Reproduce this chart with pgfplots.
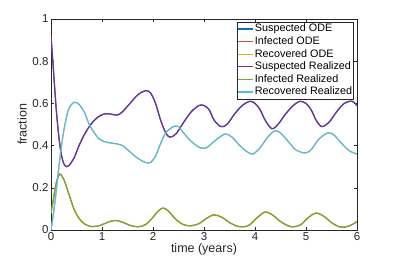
\documentclass[border=0pt]{standalone}
\usepackage{pgfplots}
\pgfplotsset{compat=1.18}
\usepackage{fontspec}
\setmainfont{Liberation Sans}
\definecolor{mblue}{rgb}{0,0.447,0.741}
\definecolor{morange}{rgb}{0.85,0.325,0.098}
\definecolor{myellow}{rgb}{0.929,0.694,0.125}
\definecolor{mpurple}{rgb}{0.494,0.184,0.556}
\definecolor{mgreen}{rgb}{0.466,0.674,0.188}
\definecolor{mcyan}{rgb}{0.301,0.745,0.933}
\definecolor{axgray}{rgb}{0.15,0.15,0.15}
\pgfplotstableread{
t v
0 0.92
0.05 0.75
0.1 0.58
0.15 0.45
0.2 0.36
0.25 0.315
0.3 0.30
0.35 0.305
0.45 0.34
0.55 0.40
0.65 0.45
0.75 0.49
0.85 0.52
0.95 0.54
1.05 0.55
1.15 0.55
1.3 0.545
1.4 0.56
1.55 0.60
1.7 0.64
1.85 0.66
1.95 0.65
2.05 0.60
2.15 0.52
2.25 0.46
2.33 0.44
2.45 0.455
2.6 0.51
2.75 0.56
2.9 0.59
3.0 0.59
3.1 0.57
3.2 0.52
3.33 0.49
3.45 0.50
3.6 0.55
3.75 0.59
3.9 0.61
4.0 0.60
4.1 0.57
4.2 0.52
4.33 0.48
4.45 0.50
4.6 0.55
4.75 0.59
4.88 0.61
5.0 0.60
5.1 0.57
5.2 0.52
5.31 0.49
5.45 0.51
5.6 0.56
5.75 0.60
5.9 0.61
6.0 0.59
}\susp
\pgfplotstableread{
t v
0 0.08
0.05 0.15
0.1 0.22
0.17 0.265
0.25 0.24
0.35 0.17
0.45 0.10
0.55 0.055
0.65 0.03
0.77 0.017
0.9 0.018
1.0 0.025
1.15 0.04
1.27 0.045
1.4 0.037
1.55 0.022
1.7 0.015
1.85 0.025
2.0 0.06
2.1 0.09
2.2 0.104
2.3 0.09
2.45 0.05
2.6 0.025
2.75 0.02
2.9 0.03
3.05 0.055
3.2 0.072
3.35 0.06
3.5 0.035
3.65 0.018
3.78 0.015
3.9 0.025
4.05 0.06
4.2 0.085
4.35 0.07
4.5 0.04
4.65 0.02
4.75 0.015
4.9 0.025
5.05 0.06
5.2 0.08
5.35 0.065
5.5 0.035
5.65 0.015
5.75 0.013
5.9 0.025
6.0 0.04
}\infe
\pgfplotstableread{
t v
0 0
0.05 0.08
0.1 0.18
0.15 0.29
0.2 0.39
0.25 0.47
0.3 0.53
0.35 0.575
0.45 0.605
0.55 0.595
0.65 0.56
0.75 0.50
0.85 0.46
0.95 0.43
1.1 0.415
1.25 0.41
1.4 0.40
1.55 0.37
1.7 0.34
1.85 0.32
1.95 0.32
2.05 0.35
2.15 0.41
2.25 0.46
2.4 0.49
2.5 0.49
2.6 0.46
2.75 0.42
2.92 0.39
3.05 0.39
3.2 0.42
3.41 0.455
3.55 0.44
3.7 0.40
3.85 0.37
3.96 0.36
4.1 0.39
4.25 0.44
4.39 0.47
4.5 0.46
4.65 0.42
4.8 0.38
4.98 0.365
5.1 0.38
5.25 0.43
5.43 0.46
5.55 0.45
5.7 0.41
5.85 0.375
6.0 0.36
}\reco
\begin{document}
\begin{tikzpicture}
\begin{axis}[
  scale only axis, width=306pt, height=211pt,
  xmin=0, xmax=6, ymin=0, ymax=1,
  xtick={0,1,...,6}, ytick={0,0.2,0.4,0.6,0.8,1},
  yticklabels={0,0.2,0.4,0.6,0.8,1},
  tick align=inside, major tick length=3pt,
  axis line style={axgray, line width=0.5pt},
  every tick/.style={axgray, line width=0.5pt},
  tick label style={font=\fontsize{11.5}{13}\selectfont, color=axgray},
  xticklabel style={yshift=1pt},
  yticklabel style={xshift=1pt},
  /pgf/number format/assume math mode=true,
  xlabel={time (years)}, ylabel={fraction},
  label style={font=\fontsize{12.5}{14}\selectfont, color=axgray},
  xlabel style={yshift=4pt},
  ylabel style={yshift=-1pt},
  legend cell align=left,
  legend style={at={(rel axis cs:0.990,0.986)}, anchor=north east,
    font=\fontsize{10.8}{12}\selectfont, draw=axgray, line width=0.5pt,
    inner sep=0.5pt, row sep=0pt, column sep=0pt,
    nodes={inner sep=1pt, text height=8.2pt, text depth=2.4pt}},
  legend image code/.code={\draw[#1, line width=1.1pt, sharp plot] (0pt,0pt) -- (15pt,0pt);},
  every axis plot/.append style={line width=1.2pt, smooth, no marks},
]
\addplot[mblue] table[x=t,y=v]{\susp};
\addlegendentry{Suspected ODE}
\addplot[morange] table[x=t,y=v]{\infe};
\addlegendentry{Infected ODE}
\addplot[myellow] table[x=t,y=v]{\reco};
\addlegendentry{Recovered ODE}
\addplot[mpurple] table[x=t,y=v]{\susp};
\addlegendentry{Suspected Realized}
\addplot[mgreen] table[x=t,y=v]{\infe};
\addlegendentry{Infected Realized}
\addplot[mcyan] table[x=t,y=v]{\reco};
\addlegendentry{Recovered Realized}
\coordinate (bl) at (rel axis cs:-0.1667,-0.1374);
\coordinate (tr) at (rel axis cs:1.1242,1.0900);
\end{axis}
\pgfresetboundingbox
\path[use as bounding box] (bl) rectangle (tr);
\end{tikzpicture}
\end{document}
